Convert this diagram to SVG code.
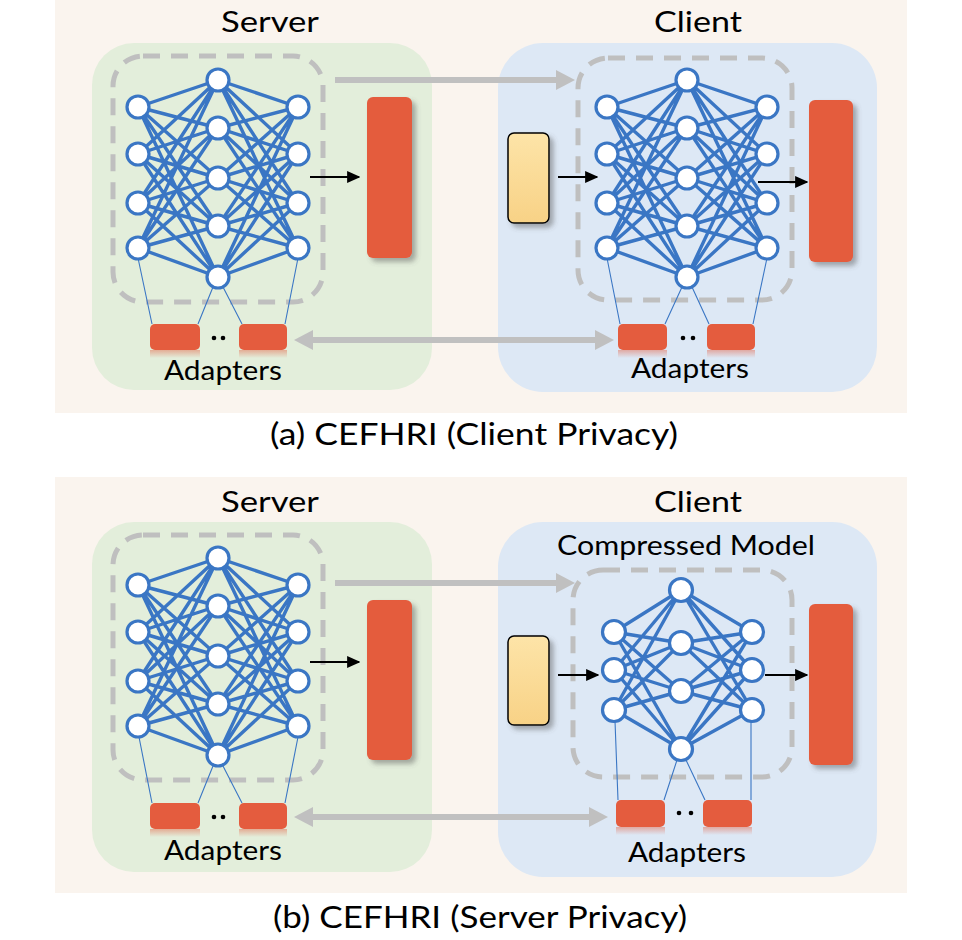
<svg xmlns="http://www.w3.org/2000/svg" xmlns:xlink="http://www.w3.org/1999/xlink" width="962" height="940" viewBox="0 0 962 940">
<style>
.lbl{font-family:Lato,"Liberation Sans",sans-serif;fill:#000;text-anchor:middle}
.dash{fill:none;stroke:#bfbfbf;stroke-width:5;stroke-dasharray:17 11}
.red{fill:#e45c3e}
.ad{fill:#e45c3e}
.thin{stroke:#3a76c4;stroke-width:1.1;fill:none}
.gl{stroke:#c0c0c0;stroke-width:6;fill:none}
.gh{fill:#c0c0c0}
.bl{stroke:#000;stroke-width:2.2;fill:none}
</style>
<defs>
<filter id="sh" x="-30%" y="-10%" width="170%" height="130%">
<feDropShadow dx="4" dy="4" stdDeviation="2.5" flood-color="#555" flood-opacity="0.45"/>
</filter>
<linearGradient id="yel" x1="0" y1="0" x2="0" y2="1">
<stop offset="0" stop-color="#fde4a8"/><stop offset="1" stop-color="#f8d286"/>
</linearGradient>
<linearGradient id="refl" x1="0" y1="0" x2="0" y2="1">
<stop offset="0" stop-color="#e45c3e" stop-opacity="0.45"/><stop offset="1" stop-color="#e45c3e" stop-opacity="0"/>
</linearGradient>
<marker id="ah" viewBox="0 0 10 10" refX="9" refY="5" markerWidth="6" markerHeight="6" orient="auto" markerUnits="strokeWidth">
<path d="M0 0.5L10 5L0 9.5z" fill="#000"/>
</marker>
<g id="bignet">
<path fill="none" stroke="#3a76c4" stroke-width="3.4" d="M-80 27L0 0M-80 27L0 48M-80 27L0 98M-80 27L0 146M-80 27L0 197M-80 74L0 0M-80 74L0 48M-80 74L0 98M-80 74L0 146M-80 74L0 197M-80 123L0 0M-80 123L0 48M-80 123L0 98M-80 123L0 146M-80 123L0 197M-80 168L0 0M-80 168L0 48M-80 168L0 98M-80 168L0 146M-80 168L0 197M80 27L0 0M80 27L0 48M80 27L0 98M80 27L0 146M80 27L0 197M80 74L0 0M80 74L0 48M80 74L0 98M80 74L0 146M80 74L0 197M80 123L0 0M80 123L0 48M80 123L0 98M80 123L0 146M80 123L0 197M80 168L0 0M80 168L0 48M80 168L0 98M80 168L0 146M80 168L0 197"/>
<g fill="#fff" stroke="#3a76c4" stroke-width="3.2">
<circle cx="-80" cy="27" r="11"/><circle cx="-80" cy="74" r="11"/><circle cx="-80" cy="123" r="11"/><circle cx="-80" cy="168" r="11"/>
<circle cx="0" cy="0" r="11"/><circle cx="0" cy="48" r="11"/><circle cx="0" cy="98" r="11"/><circle cx="0" cy="146" r="11"/><circle cx="0" cy="197" r="11"/>
<circle cx="80" cy="27" r="11"/><circle cx="80" cy="74" r="11"/><circle cx="80" cy="123" r="11"/><circle cx="80" cy="168" r="11"/>
</g>
</g>
</defs>

<rect width="962" height="940" fill="#fff"/>

<!-- ===== (a) ===== -->
<g id="panel-a">
<rect x="55" y="0" width="852" height="413" fill="#faf4ee"/>
<text class="lbl" x="270" y="32" font-size="29" textLength="98" lengthAdjust="spacingAndGlyphs">Server</text>
<text class="lbl" x="698" y="32" font-size="29" textLength="88" lengthAdjust="spacingAndGlyphs">Client</text>
<text class="lbl" x="474" y="445" font-size="31" textLength="408" lengthAdjust="spacingAndGlyphs">(a) CEFHRI (Client Privacy)</text>
</g>

<g id="server-a">
<rect x="92" y="43" width="340" height="347" rx="42" fill="#e3eedb"/>
<rect class="dash" x="113" y="56" width="210" height="246" rx="30"/>
<use xlink:href="#bignet" transform="translate(218,80)"/>
<rect class="red" x="367" y="97" width="45" height="161" rx="6" filter="url(#sh)"/>
<g id="adapters-sa">
<path class="thin" d="M138 258L152 324M213 287L198 324M223 287L242 324M298 258L285 324"/>
<rect class="ad" x="150" y="324" width="50" height="26" rx="5"/>
<rect class="ad" x="239" y="324" width="48" height="26" rx="5"/>
<rect x="150" y="350" width="50" height="8" fill="url(#refl)"/>
<rect x="239" y="350" width="48" height="8" fill="url(#refl)"/>
<circle cx="214" cy="338" r="2.3"/><circle cx="223" cy="338" r="2.3"/>
<text class="lbl" x="223" y="380" font-size="27" textLength="118" lengthAdjust="spacingAndGlyphs">Adapters</text>
</g>
</g>

<g id="client-a">
<rect x="498" y="43" width="379" height="349" rx="45" fill="#dde8f5"/>
<rect class="dash" x="578" y="58" width="214" height="242" rx="30"/>
<use xlink:href="#bignet" transform="translate(687,80)"/>
<rect x="508" y="133" width="41" height="90" rx="6" fill="url(#yel)" stroke="#000" stroke-width="1.5" filter="url(#sh)"/>
<rect class="red" x="809" y="100" width="44" height="162" rx="6" filter="url(#sh)"/>
<g id="adapters-ca">
<path class="thin" d="M607 258L620 324M682 287L665 324M692 287L709 324M767 258L753 324"/>
<rect class="ad" x="618" y="324" width="49" height="26" rx="5"/>
<rect class="ad" x="707" y="324" width="48" height="26" rx="5"/>
<rect x="618" y="350" width="49" height="8" fill="url(#refl)"/>
<rect x="707" y="350" width="48" height="8" fill="url(#refl)"/>
<circle cx="683" cy="338" r="2.3"/><circle cx="693" cy="338" r="2.3"/>
<text class="lbl" x="690" y="378" font-size="27" textLength="118" lengthAdjust="spacingAndGlyphs">Adapters</text>
</g>
</g>

<!-- ===== (b) ===== -->
<g id="panel-b">
<rect x="55" y="477" width="852" height="416" fill="#faf4ee"/>
<text class="lbl" x="270" y="512" font-size="29" textLength="98" lengthAdjust="spacingAndGlyphs">Server</text>
<text class="lbl" x="698" y="512" font-size="29" textLength="88" lengthAdjust="spacingAndGlyphs">Client</text>
<text class="lbl" x="480" y="928" font-size="31" textLength="414" lengthAdjust="spacingAndGlyphs">(b) CEFHRI (Server Privacy)</text>
</g>

<g id="server-b">
<rect x="92" y="522" width="340" height="350" rx="42" fill="#e3eedb"/>
<rect class="dash" x="113" y="535" width="210" height="245" rx="30"/>
<use xlink:href="#bignet" transform="translate(218,558)"/>
<rect class="red" x="367" y="600" width="45" height="160" rx="6" filter="url(#sh)"/>
<g id="adapters-sb">
<path class="thin" d="M139 737L152 803M213 766L198 803M223 766L242 803M298 737L285 803"/>
<rect class="ad" x="150" y="803" width="50" height="26" rx="5"/>
<rect class="ad" x="239" y="803" width="48" height="26" rx="5"/>
<rect x="150" y="829" width="50" height="8" fill="url(#refl)"/>
<rect x="239" y="829" width="48" height="8" fill="url(#refl)"/>
<circle cx="214" cy="817" r="2.3"/><circle cx="223" cy="817" r="2.3"/>
<text class="lbl" x="223" y="860" font-size="27" textLength="118" lengthAdjust="spacingAndGlyphs">Adapters</text>
</g>
</g>

<g id="client-b">
<rect x="498" y="522" width="379" height="355" rx="45" fill="#dde8f5"/>
<text class="lbl" x="686" y="555" font-size="26" textLength="258" lengthAdjust="spacingAndGlyphs">Compressed Model</text>
<rect class="dash" x="573" y="570" width="219" height="207" rx="30"/>
<g id="compressed-net">
<path fill="none" stroke="#3a76c4" stroke-width="3.4" d="M614 632L681 590M614 632L681 643M614 632L681 691M614 632L681 749M614 670L681 590M614 670L681 643M614 670L681 691M614 670L681 749M614 710L681 590M614 710L681 643M614 710L681 691M614 710L681 749M752 632L681 590M752 632L681 643M752 632L681 691M752 632L681 749M752 670L681 590M752 670L681 643M752 670L681 691M752 670L681 749M752 710L681 590M752 710L681 643M752 710L681 691M752 710L681 749"/>
<g fill="#fff" stroke="#3a76c4" stroke-width="3.2">
<circle cx="614" cy="632" r="11.5"/><circle cx="614" cy="670" r="11.5"/><circle cx="614" cy="710" r="11.5"/>
<circle cx="681" cy="590" r="11.5"/><circle cx="681" cy="643" r="11.5"/><circle cx="681" cy="691" r="11.5"/><circle cx="681" cy="749" r="11.5"/>
<circle cx="752" cy="632" r="11.5"/><circle cx="752" cy="670" r="11.5"/><circle cx="752" cy="710" r="11.5"/>
</g>
</g>
<rect x="508" y="636" width="41" height="89" rx="6" fill="url(#yel)" stroke="#000" stroke-width="1.5" filter="url(#sh)"/>
<rect class="red" x="809" y="604" width="44" height="161" rx="6" filter="url(#sh)"/>
<g id="adapters-cb">
<path class="thin" d="M615 721L618 800M677 760L664 800M686 760L705 800M751 721L751 800"/>
<rect class="ad" x="616" y="800" width="49" height="27" rx="5"/>
<rect class="ad" x="703" y="800" width="49" height="27" rx="5"/>
<rect x="616" y="827" width="49" height="8" fill="url(#refl)"/>
<rect x="703" y="827" width="49" height="8" fill="url(#refl)"/>
<circle cx="679" cy="813" r="2.3"/><circle cx="691" cy="813" r="2.3"/>
<text class="lbl" x="687" y="862" font-size="27" textLength="118" lengthAdjust="spacingAndGlyphs">Adapters</text>
</g>
</g>

<!-- ===== connectors ===== -->
<g id="connectors">
<path class="bl" marker-end="url(#ah)" d="M310 177H359"/>
<path class="bl" marker-end="url(#ah)" d="M558 177H597"/>
<path class="bl" marker-end="url(#ah)" d="M758 182H807"/>
<path class="bl" marker-end="url(#ah)" d="M310 662H359"/>
<path class="bl" marker-end="url(#ah)" d="M558 675H598"/>
<path class="bl" marker-end="url(#ah)" d="M765 675H807"/>
<path class="gl" d="M335 80H558"/>
<path class="gh" d="M575 80L556 70V90z"/>
<path class="gl" d="M310 340H598"/>
<path class="gh" d="M294 340L313 330V350z"/>
<path class="gh" d="M614 340L595 330V350z"/>
<path class="gl" d="M335 583H558"/>
<path class="gh" d="M575 583L556 573V593z"/>
<path class="gl" d="M310 817H592"/>
<path class="gh" d="M294 817L313 807V827z"/>
<path class="gh" d="M608 817L589 807V827z"/>
</g>
</svg>
